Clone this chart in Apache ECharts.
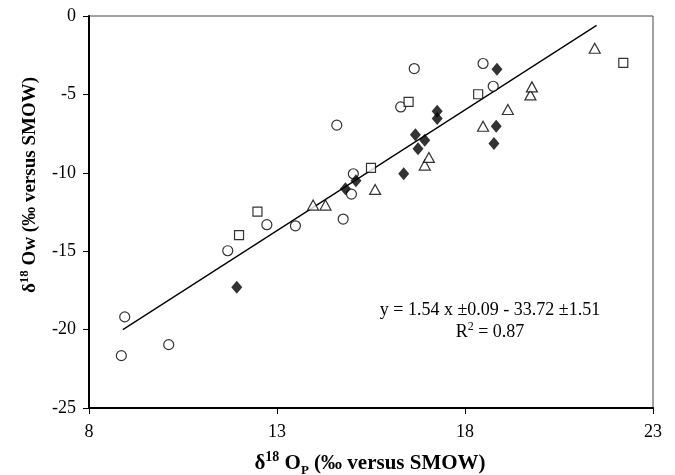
<!DOCTYPE html>
<html><head><meta charset="utf-8">
<script src="https://cdn.jsdelivr.net/npm/echarts@6/dist/echarts.min.js"></script>
<style>html,body{margin:0;padding:0;background:#fff}#c{width:675px;height:475px}</style>
</head><body><div id="c"></div>
<script>
const circles = [[8.95,-19.19],[8.86,-21.66],[10.12,-20.96],[11.69,-14.97],[12.73,-13.31],[13.49,-13.38],[14.59,-6.96],[14.76,-12.95],[15.03,-10.06],[14.98,-11.36],[16.29,-5.8],[16.65,-3.35],[18.48,-3.03],[18.75,-4.48]];
const squares = [[11.99,-13.97],[12.48,-12.48],[15.5,-9.68],[16.5,-5.48],[18.35,-4.99],[22.21,-2.99]];
const triangles = [[13.96,-12.06],[14.29,-12.06],[15.61,-11.06],[16.93,-9.51],[17.04,-9.02],[18.48,-7.03],[19.14,-5.96],[19.74,-5.03],[19.78,-4.52],[21.45,-2.06]];
const diamonds = [[11.93,-17.3],[14.82,-11.02],[15.1,-10.51],[16.37,-10.06],[16.68,-7.58],[16.75,-8.47],[16.93,-7.92],[17.26,-6.07],[17.26,-6.54],[18.77,-8.13],[18.83,-7.03],[18.85,-3.39]];
const fitLine = [[8.9,-20.0],[21.5,-0.6]];
const xTicks = [8, 13, 18, 23];
const yTicks = [-25, -20, -15, -10, -5, 0];

const font = '"Liberation Serif", "Times New Roman", serif';
const chart = echarts.init(document.getElementById('c'));
const openStyle = {color:'#fff', borderColor:'#000', borderWidth:1.2};
chart.setOption({
  animation:false,
  grid:{left:89, right:22, top:16, bottom:67, show:true, borderColor:'#444', borderWidth:1},
  xAxis:{type:'value', min:xTicks[0], max:xTicks[xTicks.length-1], interval:5,
    axisLine:{show:true, onZero:false, lineStyle:{color:'#000', width:2}},
    axisTick:{show:true, length:6, lineStyle:{color:'#000', width:1}},
    axisLabel:{color:'#000', fontFamily:font, fontSize:18, margin:15},
    splitLine:{show:false}},
  yAxis:{type:'value', min:yTicks[0], max:yTicks[yTicks.length-1], interval:5,
    axisLine:{show:true, onZero:false, lineStyle:{color:'#000', width:2}},
    axisTick:{show:true, length:6, lineStyle:{color:'#000', width:1}},
    axisLabel:{color:'#000', fontFamily:font, fontSize:18, margin:13},
    splitLine:{show:false}},
  series:[
    {type:'line', data:fitLine, symbol:'none', lineStyle:{color:'#000', width:1.3}, z:1},
    {type:'scatter', data:circles, symbol:'circle', symbolSize:10, itemStyle:openStyle, z:3},
    {type:'scatter', data:squares, symbol:'rect', symbolSize:9, itemStyle:openStyle, z:3},
    {type:'scatter', data:triangles, symbol:'triangle', symbolSize:[11,10], itemStyle:openStyle, z:3},
    {type:'scatter', data:diamonds, symbol:'diamond', symbolSize:[11,13], itemStyle:{color:'#000'}, z:4}
  ],
  graphic:[
    {type:'text', x:490, y:310, style:{text:'y = 1.54 x ±0.09 - 33.72 ±1.51', font:'18px '+font, fill:'#000', align:'center', verticalAlign:'middle'}},
    {type:'text', x:490, y:331, style:{text:'{n|R}{s|2}{n| = 0.87}', fill:'#000', align:'center', verticalAlign:'middle',
      rich:{n:{fontFamily:font, fontSize:18, lineHeight:20, verticalAlign:'bottom'}, s:{fontFamily:font, fontSize:12, lineHeight:12, verticalAlign:'top'}}}},
    {type:'text', x:370, y:462, style:{text:'{n|δ}{s|18}{n| O}{b|P}{n| (‰ versus SMOW)}', fill:'#000', align:'center', verticalAlign:'middle',
      rich:{n:{fontFamily:font, fontSize:21, fontWeight:'bold', lineHeight:24, verticalAlign:'bottom'},
            s:{fontFamily:font, fontSize:14, fontWeight:'bold', lineHeight:14, verticalAlign:'top'},
            b:{fontFamily:font, fontSize:13, fontWeight:'bold', lineHeight:13, verticalAlign:'bottom', padding:[0,0,-3,0]}}}},
    {type:'text', x:29, y:185, rotation:Math.PI/2, style:{text:'{n|δ}{s|18}{n| Ow (‰ versus SMOW)}', fill:'#000', align:'center', verticalAlign:'middle',
      rich:{n:{fontFamily:font, fontSize:19, fontWeight:'bold', lineHeight:22, verticalAlign:'bottom'},
            s:{fontFamily:font, fontSize:13, fontWeight:'bold', lineHeight:13, verticalAlign:'top'}}}}
  ]
});
</script></body></html>
